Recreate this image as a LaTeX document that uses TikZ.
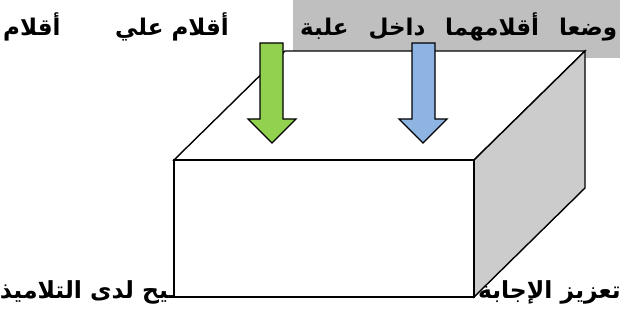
\documentclass[tikz,border=0pt]{standalone}
\usepackage{fontspec}
\newfontfamily\arabicfont[Script=Arabic]{DejaVu Sans}
\TeXXeTstate=1
\definecolor{penGreen}{HTML}{92D050}
\definecolor{penBlue}{HTML}{8EB4E3}
\definecolor{bandGrey}{HTML}{BFBFBF}
\definecolor{sideGrey}{HTML}{CCCCCC}

\begin{document}
\begin{tikzpicture}[x=1pt,y=-1pt,
  txt/.style={inner sep=0pt,font=\arabicfont\bfseries\fontsize{23}{27}\selectfont},
  bigtxt/.style={inner sep=0pt,font=\arabicfont\bfseries\fontsize{23.5}{28}\selectfont},
  edge/.style={draw=black,line width=1.4pt},
  pen/.style={draw=black,line width=1.3pt}
]
  \useasboundingbox (0,0) rectangle (620,320);
  \clip (0,0) rectangle (620,320);

  % grey band behind the heading
  \fill[bandGrey] (293,0) rectangle (620,58);
  \node[txt,anchor=base west] (head) at (300,36)
    {\makebox[317pt][s]{\beginR وضعا  أقلامهما داخل علبة\endR}};
  \node[txt,anchor=base] (pensB) at (172,36) {\beginR أقلام علي\endR};
  \node[txt,anchor=base west] (pensA) at (3,36) {\beginR أقلام\endR};

  % line of text behind the box
  \node[bigtxt,anchor=base east] (boostR) at (621,298) {\beginR تعزيز الإجابة\endR};
  \node[bigtxt,anchor=base east] (boostL) at (177,298) {\beginR ـيح لدى التلاميذ\endR};

  % the box
  \coordinate (fl) at (174,160);
  \coordinate (fr) at (474,160);
  \coordinate (bl) at (285,51);
  \coordinate (br) at (585,51);
  \filldraw[edge,fill=white] (fl) -- (bl) -- (br) -- (fr) -- cycle;
  \filldraw[edge,fill=sideGrey] (fr) -- (br) -- (585,188) -- (474,297) -- cycle;
  \filldraw[edge,fill=white] (fl) rectangle (474,297);

  % pens going in
  \filldraw[pen,fill=penGreen] (260,43) -- ++(23,0) -- ++(0,76) -- ++(13,0)
    -- ++(-24,24) -- ++(-24,-24) -- ++(12,0) -- cycle;
  \filldraw[pen,fill=penBlue] (412,43) -- ++(23,0) -- ++(0,76) -- ++(12,0)
    -- ++(-24,24) -- ++(-24,-24) -- ++(13,0) -- cycle;
\end{tikzpicture}
\end{document}
